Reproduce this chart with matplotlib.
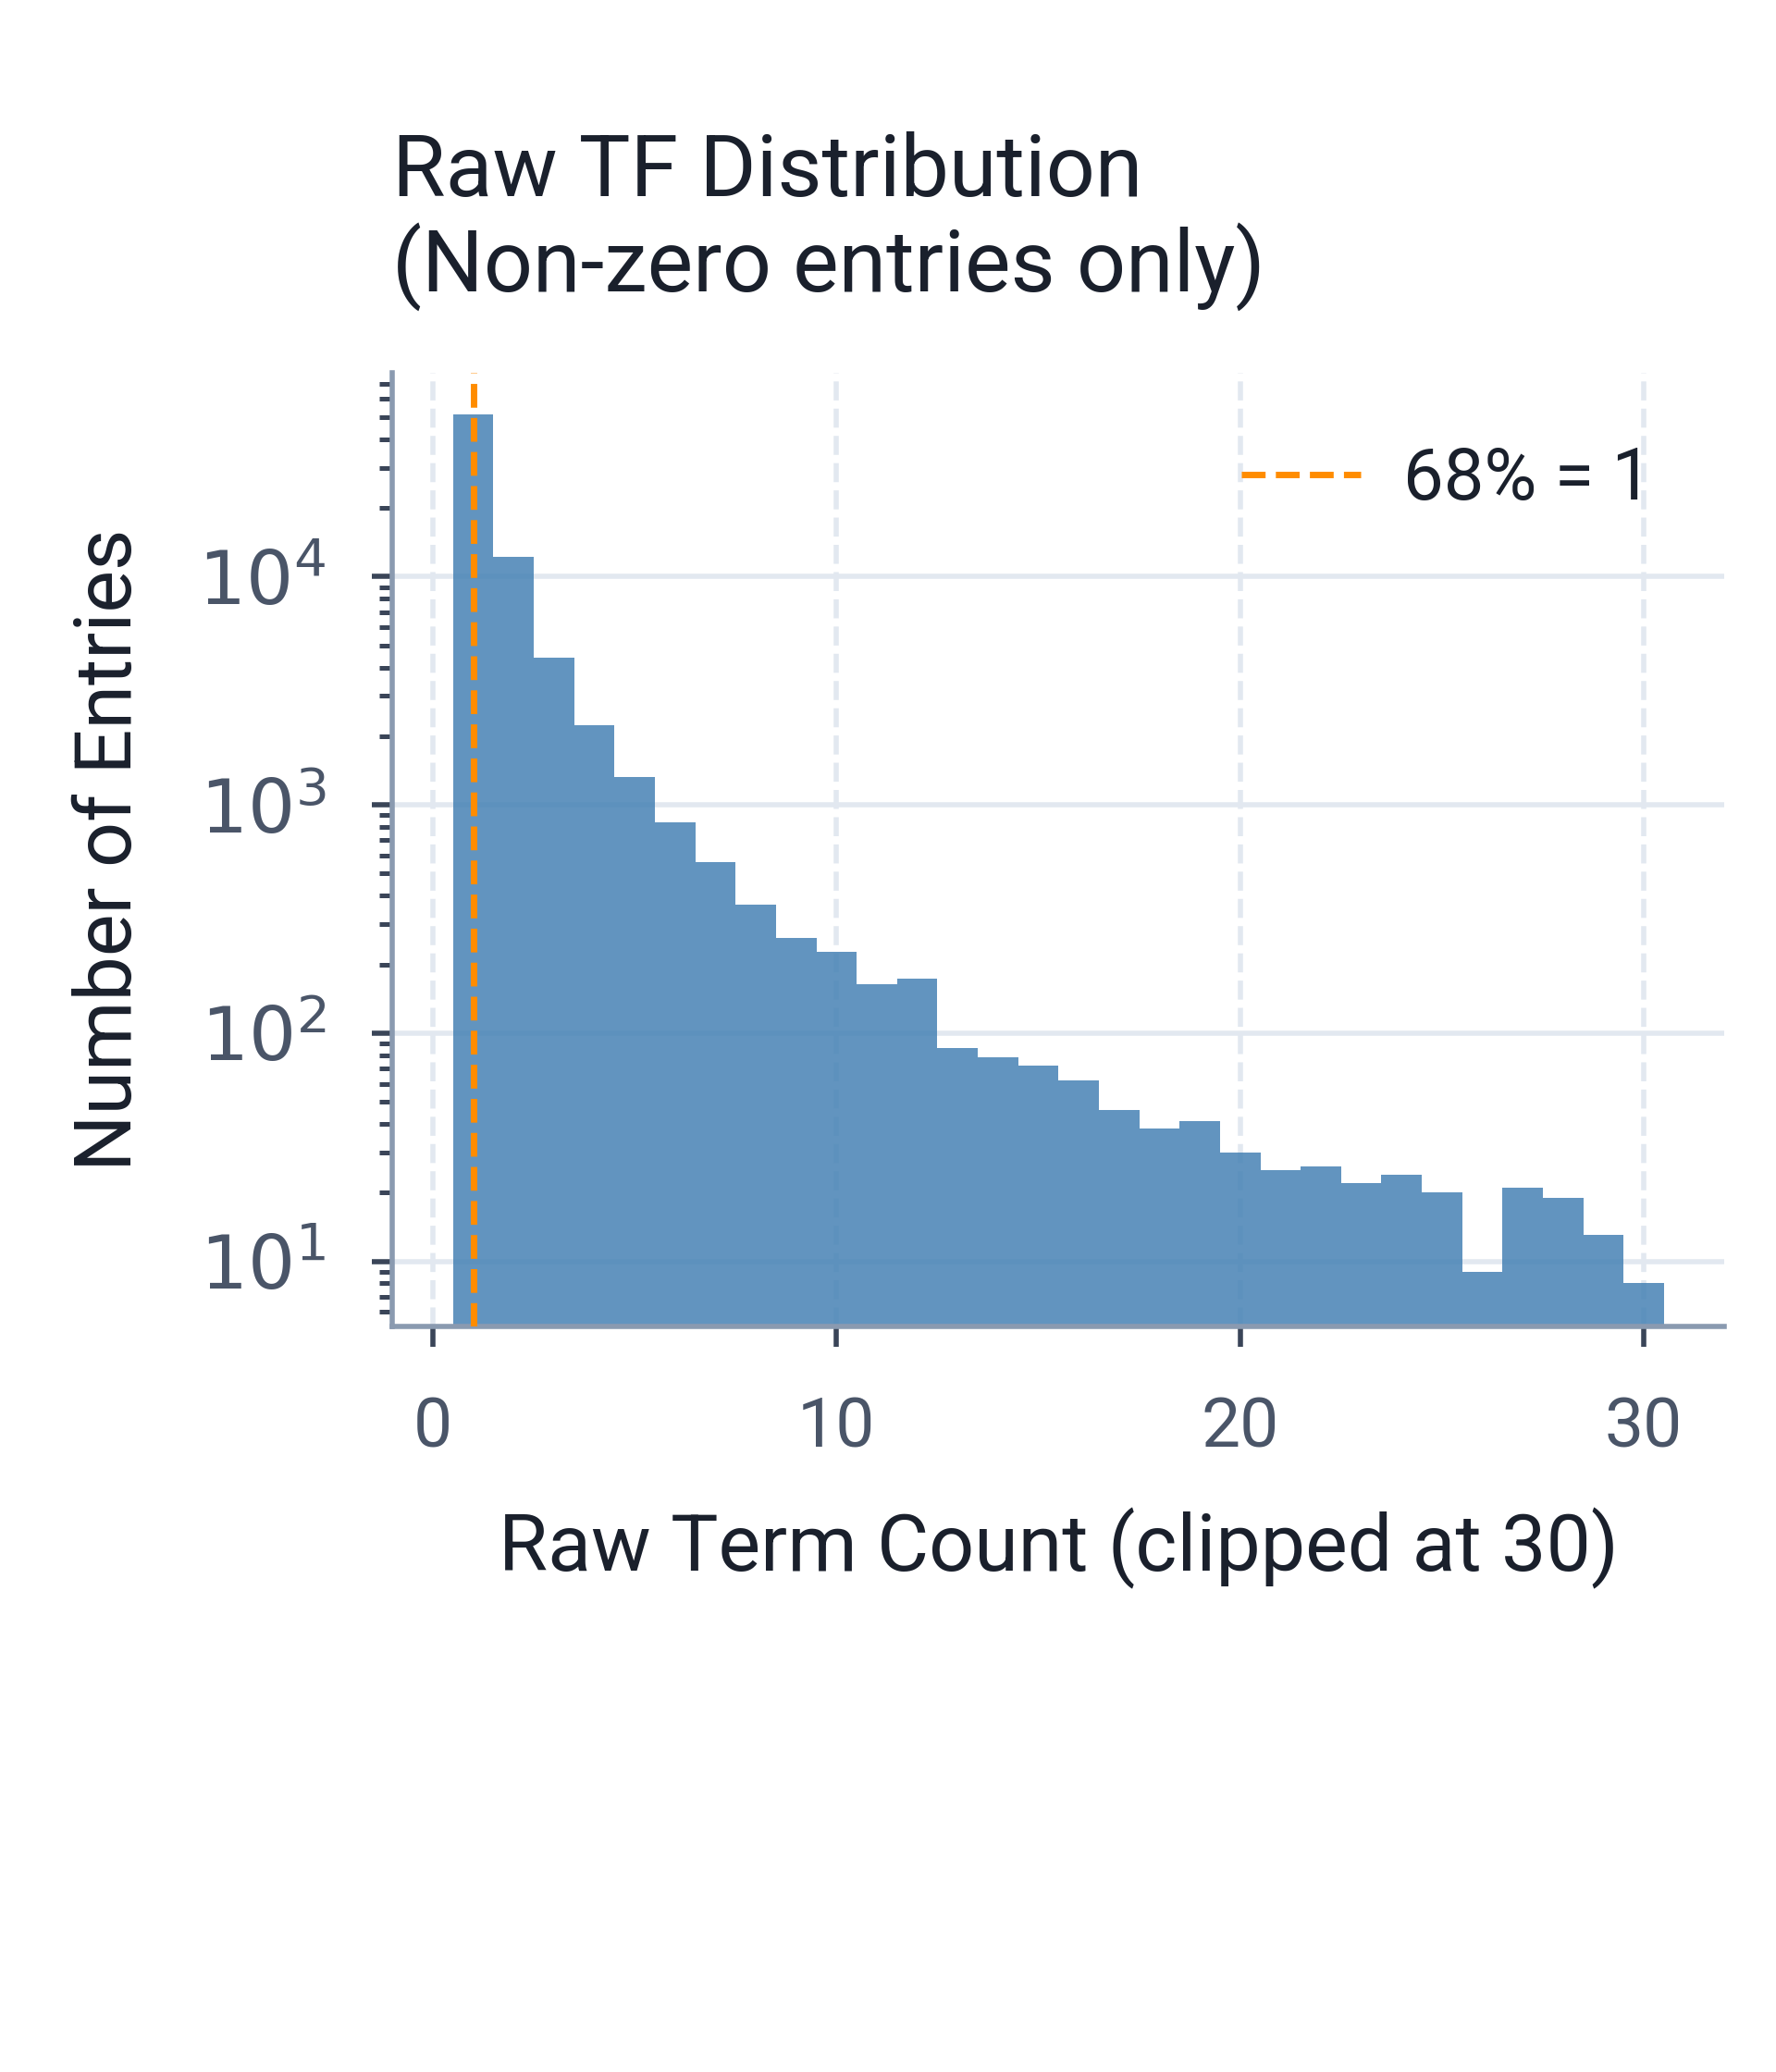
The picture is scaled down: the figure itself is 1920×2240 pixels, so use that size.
"""Raw TF distribution (non-zero entries), log-scale histogram."""
import numpy as np
import matplotlib
matplotlib.use('Agg')
import matplotlib.pyplot as plt
from matplotlib.ticker import FuncFormatter

plt.rcParams['font.family'] = ['Roboto', 'DejaVu Sans']
plt.rcParams['mathtext.fontset'] = 'dejavusans'

# per-count frequency of raw term counts 1..30 (30 = clipped)
term_counts = np.arange(1, 31)
entry_counts = [51200, 12200, 4420, 2230, 1320, 840, 562, 366, 262, 226,
                164, 173, 86, 78, 72, 62, 46, 38, 41, 30,
                25, 26, 22, 24, 20, 9, 21, 19, 13, 8]
bin_edges = np.arange(0.5, 31.5, 1.0)
pct_label = '68% = 1'
pct_value = 1

DARK = '#1a202c'
MUTED = '#4a5568'
SPINE = '#8a9ab0'
GRID = '#e2e8f0'

fig = plt.figure(figsize=(4.8, 5.6), dpi=400)
ax = fig.add_axes([0.221, 0.360, 0.750, 0.460])

ax.hist(term_counts, bins=bin_edges, weights=entry_counts,
        color='steelblue', alpha=0.85, zorder=2)
ax.axvline(pct_value, color='darkorange', ls='--', lw=1.25,
           label=pct_label, zorder=3)

ax.set_yscale('log')
ax.set_ylim(5.2, 78000)
ax.set_xticks([0, 10, 20, 30])
ax.yaxis.set_major_formatter(
    FuncFormatter(lambda v, p: r'$10^{%d}$' % round(np.log10(v))))

ax.grid(axis='y', which='major', color=GRID, lw=1.0, zorder=0)
ax.grid(axis='x', which='major', color=GRID, lw=1.0, ls='--', zorder=0)
ax.set_axisbelow(True)

for s in ['top', 'right']:
    ax.spines[s].set_visible(False)
for s in ['left', 'bottom']:
    ax.spines[s].set_color(SPINE)
    ax.spines[s].set_linewidth(1.0)

ax.tick_params(axis='both', which='major', length=4, width=1.0,
               color='#3a4558', labelcolor=MUTED)
ax.tick_params(axis='x', labelsize=13.5, pad=9.5)
ax.tick_params(axis='y', labelsize=14.5, pad=9)
ax.tick_params(axis='y', which='minor', length=2.6, width=0.9, color='#3a4558')

ax.set_xlabel('Raw Term Count (clipped at 30)', fontsize=15.5, color=DARK,
              labelpad=9)
ax.set_ylabel('Number of Entries', fontsize=15.5, color=DARK, labelpad=10)
ax.set_title('Raw TF Distribution\n(Non-zero entries only)', loc='left',
             fontsize=16.8, color=DARK, pad=16, linespacing=1.12)

leg = ax.legend(loc='upper right', frameon=False, fontsize=14,
                handlelength=1.65, handletextpad=0.6, borderaxespad=0.6)
for t in leg.get_texts():
    t.set_color(DARK)

fig.savefig('out.png', dpi=400)
